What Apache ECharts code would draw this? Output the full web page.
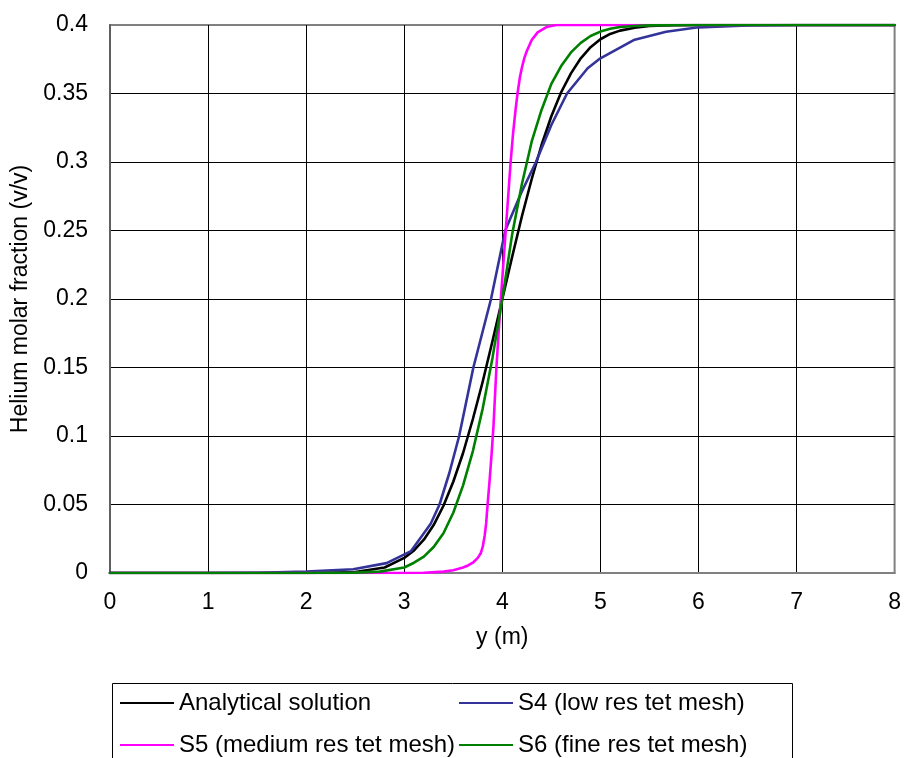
<!DOCTYPE html>
<html>
<head>
<meta charset="utf-8">
<title>Helium molar fraction profile</title>
<script src="https://cdn.jsdelivr.net/npm/echarts@6/dist/echarts.min.js"></script>
<style>
  html, body { margin: 0; padding: 0; background: #fff; }
  #chart { width: 904px; height: 758px; }
</style>
</head>
<body>
<div id="chart"></div>
<script>
// Axis ranges
const X_MIN = 0, X_MAX = 8, X_STEP = 1;
const Y_MIN = 0, Y_MAX = 0.4, Y_STEP = 0.05;

const seriesNames = [
  'Analytical solution',
  'S4 (low res tet mesh)',
  'S5 (medium res tet mesh)',
  'S6 (fine res tet mesh)'
];

// Analytical solution
const analyticalY = [0, 1, 2, 2.5, 2.8, 3.0, 3.1, 3.2, 3.3, 3.4, 3.5, 3.6, 3.7, 3.8, 3.9, 4.0, 4.1, 4.2, 4.3, 4.4, 4.5, 4.6, 4.7, 4.8, 4.9, 5.0, 5.1, 5.2, 5.35, 5.5, 5.75, 6, 7, 8];
const analyticalC = [0, 0, 0, 0.0007, 0.004, 0.011, 0.0165, 0.0243, 0.035, 0.0491, 0.0666, 0.0876, 0.1124, 0.1396, 0.1693, 0.2, 0.2307, 0.2604, 0.2876, 0.3124, 0.3334, 0.3509, 0.3647, 0.3757, 0.3838, 0.3896, 0.3935, 0.3959, 0.3980, 0.3993, 0.3998, 0.4, 0.4, 0.4];

// S4 (low res tet mesh)
const s4Y = [0, 1, 1.5, 2, 2.48, 2.82, 3.07, 3.27, 3.36, 3.46, 3.56, 3.705, 3.885, 4.03, 4.19, 4.343, 4.5, 4.66, 4.87, 5.0, 5.34, 5.67, 6.0, 6.5, 7, 8];
const s4C = [0, 0, 0.0002, 0.001, 0.0027, 0.0072, 0.016, 0.036, 0.05, 0.073, 0.1, 0.15, 0.2, 0.25, 0.277, 0.3, 0.327, 0.35, 0.3684, 0.3757, 0.389, 0.3951, 0.3983, 0.3996, 0.4, 0.4];

// S5 (medium res tet mesh)
const s5Y = [0, 1, 2, 3, 3.2, 3.4, 3.5, 3.6, 3.65, 3.7, 3.75, 3.78, 3.8, 3.82, 3.835, 3.85, 3.87, 3.89, 3.91, 3.94, 3.985, 4.035, 4.085, 4.11, 4.135, 4.155, 4.18, 4.2, 4.225, 4.25, 4.3, 4.36, 4.45, 4.55, 5, 6, 7, 8];
const s5C = [0, 0, 0, 0, 0.0002, 0.001, 0.002, 0.004, 0.0055, 0.0075, 0.011, 0.0144, 0.019, 0.027, 0.036, 0.05, 0.067, 0.086, 0.107, 0.15, 0.2, 0.25, 0.3, 0.321, 0.338, 0.35, 0.362, 0.369, 0.376, 0.381, 0.389, 0.3946, 0.3985, 0.4, 0.4, 0.4, 0.4, 0.4];

// S6 (fine res tet mesh)
const s6Y = [0, 1, 2, 2.5, 2.75, 3.0, 3.1, 3.2, 3.3, 3.4, 3.5, 3.6, 3.7, 3.8, 3.9, 4.0, 4.1, 4.2, 4.3, 4.4, 4.5, 4.6, 4.7, 4.8, 4.9, 5.0, 5.1, 5.2, 5.35, 5.5, 6, 7, 8];
const s6C = [0, 0, 0, 0.0003, 0.001, 0.004, 0.0075, 0.012, 0.019, 0.029, 0.044, 0.064, 0.089, 0.12, 0.157, 0.2, 0.247, 0.284, 0.315, 0.338, 0.357, 0.370, 0.380, 0.387, 0.392, 0.3952, 0.3972, 0.3985, 0.3993, 0.3997, 0.4, 0.4, 0.4];

const FONT = '"Liberation Sans", Arial, sans-serif';
const FONT_SIZE = 23;
const LEGEND_FONT_SIZE = 24;

function pairs(xs, ys) {
  return xs.map((x, i) => [x, ys[i]]);
}

function lineSeries(name, xs, ys, color) {
  return {
    name: name,
    type: 'line',
    data: pairs(xs, ys),
    showSymbol: false,
    symbol: 'none',
    smooth: false,
    lineStyle: { color: color, width: 2.6, join: 'round', cap: 'round' },
    itemStyle: { color: color },
    emphasis: { disabled: true },
    animation: false
  };
}

const chart = echarts.init(document.getElementById('chart'), null, { renderer: 'canvas' });

const legendCommon = {
  orient: 'vertical',
  top: 691,
  padding: 0,
  itemWidth: 54,
  itemHeight: 2,
  itemGap: 18,
  icon: 'rect',
  selectedMode: false,
  textStyle: { fontFamily: FONT, fontSize: LEGEND_FONT_SIZE, color: '#000', lineHeight: 24 }
};

chart.setOption({
  animation: false,
  backgroundColor: '#fff',
  grid: {
    left: 110, right: 8, top: 25, bottom: 185,
    show: true,
    borderColor: '#808080',
    borderWidth: 2,
    backgroundColor: 'transparent'
  },
  legend: [
    Object.assign({}, legendCommon, { left: 120, data: [seriesNames[0], seriesNames[2]] }),
    Object.assign({}, legendCommon, { left: 459, data: [seriesNames[1], seriesNames[3]] })
  ],
  graphic: [{
    type: 'rect',
    silent: true,
    z: -1,
    shape: { x: 112.5, y: 683.5, width: 680, height: 100 },
    style: { fill: 'none', stroke: '#000', lineWidth: 1 }
  }],
  xAxis: {
    type: 'value',
    min: X_MIN, max: X_MAX, interval: X_STEP,
    name: 'y (m)',
    nameLocation: 'middle',
    nameGap: 53,
    nameTextStyle: { fontFamily: FONT, fontSize: FONT_SIZE, color: '#000' },
    axisLine: { show: true, lineStyle: { color: '#808080', width: 2 } },
    axisTick: { show: false },
    axisLabel: { margin: 18, fontFamily: FONT, fontSize: FONT_SIZE, color: '#000' },
    splitLine: { show: true, showMinLine: false, showMaxLine: false, lineStyle: { color: '#000', width: 1 } }
  },
  yAxis: {
    type: 'value',
    min: Y_MIN, max: Y_MAX, interval: Y_STEP,
    name: 'Helium molar fraction (v/v)',
    nameLocation: 'middle',
    nameGap: 78,
    nameTextStyle: { fontFamily: FONT, fontSize: FONT_SIZE, color: '#000' },
    axisLine: { show: true, lineStyle: { color: '#606060', width: 2 } },
    axisTick: { show: false },
    axisLabel: { margin: 22, fontFamily: FONT, fontSize: FONT_SIZE, color: '#000' },
    splitLine: { show: true, showMinLine: false, showMaxLine: false, lineStyle: { color: '#000', width: 1 } }
  },
  series: [
    lineSeries(seriesNames[0], analyticalY, analyticalC, '#000000'),
    lineSeries(seriesNames[1], s4Y, s4C, '#333399'),
    lineSeries(seriesNames[2], s5Y, s5C, '#FF00FF'),
    lineSeries(seriesNames[3], s6Y, s6C, '#008000')
  ]
});
</script>
</body>
</html>
